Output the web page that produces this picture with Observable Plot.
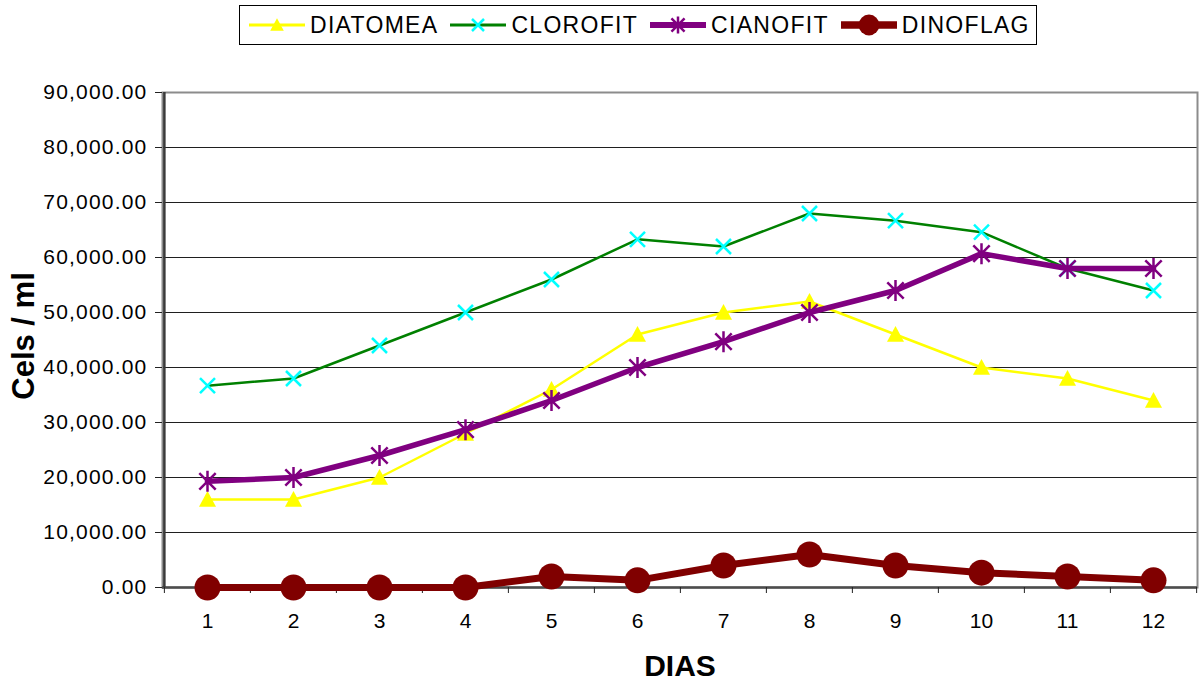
<!DOCTYPE html>
<html>
<head>
<meta charset="utf-8">
<script src="https://cdn.jsdelivr.net/npm/d3@7"></script>
<script src="https://cdn.jsdelivr.net/npm/@observablehq/plot@0.6"></script>
<style>
  body { margin: 0; background: #fff; font-family: "Liberation Sans", Arial, sans-serif; }
  #wrap { position: relative; width: 1200px; height: 682px; overflow: hidden; }
  #chart { position: absolute; left: 0; top: 0; }
  #legend {
    position: absolute; left: 239px; top: 5px; width: 798px; height: 40px;
    box-sizing: border-box; border: 1px solid #000; background: #fff;
    display: flex; align-items: center; padding-left: 8px;
  }
  .item { display: flex; align-items: center; margin-right: 11px; }
  .item span { font-size: 23px; letter-spacing: 1.3px; margin-left: 4px; color: #000; }
</style>
</head>
<body>
<div id="wrap">
  <div id="chart"></div>
  <div id="legend"></div>
</div>
<script>
// Daily cell counts (cells per ml) for each phytoplankton group
const days = [1, 2, 3, 4, 5, 6, 7, 8, 9, 10, 11, 12];
const diatomea = [16000, 16000, 20000, 28000, 36000, 46000, 50000, 52000, 46000, 40000, 38000, 34000];
const clorofit = [36700, 38000, 44000, 50000, 56000, 63300, 62000, 68000, 66700, 64600, 58000, 54000];
const cianofit = [19300, 20000, 24000, 28700, 34000, 40000, 44700, 50000, 54000, 60700, 58000, 58000];
const dinoflag = [0, 0, 0, 0, 2000, 1300, 4000, 6000, 4000, 2700, 2000, 1300];
const seriesNames = ["DIATOMEA", "CLOROFIT", "CIANOFIT", "DINOFLAG"];
const yTicks = [0, 10000, 20000, 30000, 40000, 50000, 60000, 70000, 80000, 90000];
const xTitle = "DIAS";
const yTitle = "Cels / ml";

// Marker shapes; r is the half-extent of each shape
const radius = size => Math.sqrt(size / Math.PI);
const triangle = {
  draw(ctx, size) {
    const r = radius(size);
    ctx.moveTo(0, -r);
    ctx.lineTo(r, r * 0.85);
    ctx.lineTo(-r, r * 0.85);
    ctx.closePath();
  }
};
const cross = {
  draw(ctx, size) {
    const r = radius(size);
    ctx.moveTo(-r, -r); ctx.lineTo(r, r);
    ctx.moveTo(r, -r); ctx.lineTo(-r, r);
  }
};
const asterisk = {
  draw(ctx, size) {
    const r = radius(size);
    const d = r * 0.78;
    ctx.moveTo(0, -r); ctx.lineTo(0, r);
    ctx.moveTo(-d, -d); ctx.lineTo(d, d);
    ctx.moveTo(d, -d); ctx.lineTo(-d, d);
  }
};
const disc = {
  draw(ctx, size) {
    const r = radius(size);
    ctx.moveTo(r, 0);
    ctx.arc(0, 0, r, 0, 2 * Math.PI);
  }
};

const series = [
  { name: seriesNames[0], values: diatomea, line: "#ffff00", lineWidth: 2.5, mark: "#ffff00", symbol: triangle, r: 8.5, filled: true },
  { name: seriesNames[1], values: clorofit, line: "#008000", lineWidth: 2.5, mark: "#00ffff", symbol: cross, r: 7.5, filled: false, markWidth: 2.5 },
  { name: seriesNames[2], values: cianofit, line: "#800080", lineWidth: 5.5, mark: "#800080", symbol: asterisk, r: 10.5, filled: false, markWidth: 2.5 },
  { name: seriesNames[3], values: dinoflag, line: "#800000", lineWidth: 7, mark: "#800000", symbol: disc, r: 13, filled: true }
];

const W = 1200, H = 682;
const mL = 162, mR = 3, mT = 92, mB = 95;
const half = (W - mL - mR) / days.length / 2;

const seriesMarks = series.flatMap(s => {
  const rows = days.map((d, i) => ({ day: d, value: s.values[i] }));
  return [
    Plot.line(rows, { x: "day", y: "value", stroke: s.line, strokeWidth: s.lineWidth, strokeLinejoin: "round", strokeLinecap: "round" }),
    Plot.dot(rows, {
      x: "day", y: "value", symbol: s.symbol, r: s.r,
      fill: s.filled ? s.mark : "none",
      stroke: s.filled ? "none" : s.mark,
      strokeWidth: s.markWidth || 1
    })
  ];
});

const chart = Plot.plot({
  width: W,
  height: H,
  marginTop: mT,
  marginBottom: mB,
  marginLeft: mL,
  marginRight: mR,
  style: { fontFamily: '"Liberation Sans", Arial, sans-serif', fontSize: "21px", background: "transparent", color: "#000" },
  x: { type: "point", domain: days, padding: 0.5, label: null },
  y: { domain: [0, 90000], label: null },
  marks: [
    Plot.gridY(yTicks, { stroke: "#1f1f1f", strokeOpacity: 1, strokeWidth: 1 }),
    Plot.frame({ stroke: "#8c8c8c", strokeWidth: 2 }),
    Plot.ruleY([0], { stroke: "#4d4d4d", strokeWidth: 2.5 }),
    Plot.ruleX([days[0]], { dx: -half, stroke: "#3a3a3a", strokeWidth: 2.5 }),
    Plot.axisY(yTicks, { tickSize: 7, tickPadding: 8, tickFormat: d3.format(",.2f"), fontSize: 21, stroke: "#222" }),
    Plot.axisX(days, { tickSize: 0, tickPadding: 26, fontSize: 21 }),
    Plot.axisX(days, { tickSize: 6, tickFormat: () => "", dx: -half, stroke: "#222" }),
    Plot.axisX([days[days.length - 1]], { tickSize: 6, tickFormat: () => "", dx: half, stroke: "#222" }),
    Plot.text([yTitle], { text: d => d, frameAnchor: "left", textAnchor: "middle", lineAnchor: "middle", dx: -138, dy: -4, rotate: -90, fontSize: 31, fontWeight: "bold" }),
    Plot.text([xTitle], { text: d => d, frameAnchor: "bottom", textAnchor: "middle", lineAnchor: "middle", dy: 79, fontSize: 30, fontWeight: "bold" }),
    ...seriesMarks
  ]
});

// Slightly wider spacing for the value labels
d3.select(chart).selectAll('g[aria-label="y-axis tick label"] text')
  .attr("letter-spacing", "1.2px");

document.getElementById("chart").appendChild(chart);

// Legend: line swatch with its marker, then the series name
const legend = d3.select("#legend");
for (const s of series) {
  const item = legend.append("div").attr("class", "item");
  const sw = item.append("svg").attr("width", 58).attr("height", 30);
  sw.append("line").attr("x1", 1).attr("x2", 57).attr("y1", 15).attr("y2", 15)
    .attr("stroke", s.line).attr("stroke-width", s.lineWidth + 0.5);
  const rr = s.r * 0.8;
  const p = d3.path();
  s.symbol.draw(p, rr * rr * Math.PI);
  sw.append("path").attr("d", p.toString()).attr("transform", "translate(29,15)")
    .attr("fill", s.filled ? s.mark : "none")
    .attr("stroke", s.filled ? "none" : s.mark)
    .attr("stroke-width", s.markWidth || 0);
  item.append("span").text(s.name);
}
</script>
</body>
</html>
